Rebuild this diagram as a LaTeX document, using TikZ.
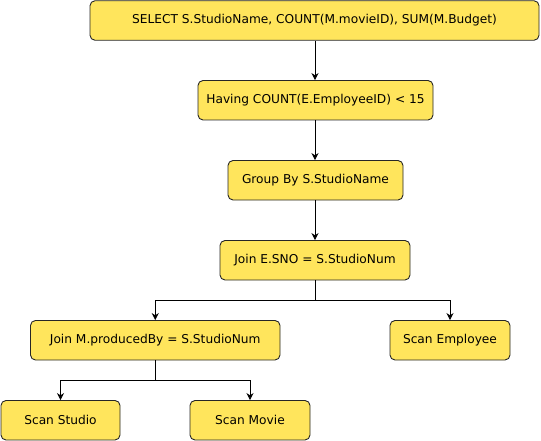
\documentclass[tikz,border=0pt]{standalone}
\usepackage{fontspec}
\setmainfont{DejaVu Sans}
\usetikzlibrary{arrows.meta}
\begin{document}
\begin{tikzpicture}[x=1pt,y=-1pt,
  box/.style={draw=black!85, line width=0.9pt, fill=boxfill, rounded corners=5pt, inner sep=0pt, minimum height=39.5pt, font=\fontsize{12.2}{14}\selectfont},
  arr/.style={-{Stealth[length=7pt,width=7pt]}, line width=0.8pt}]
\definecolor{boxfill}{HTML}{FFE55C}
\useasboundingbox (0,0) rectangle (541,441);
\node[box, minimum width=449pt] (n1) at (314.5,20.5) {SELECT S.StudioName, COUNT(M.movieID), SUM(M.Budget)};
\node[box, minimum width=235pt] (n2) at (315.5,100.25) {Having COUNT(E.EmployeeID) < 15};
\node[box, minimum width=175pt] (n3) at (315.5,180.25) {Group By S.StudioName};
\node[box, minimum width=190pt] (n4) at (315,260.25) {Join E.SNO = S.StudioNum};
\node[box, minimum width=249.5pt] (n5) at (155.25,340.25) {Join M.producedBy = S.StudioNum};
\node[box, minimum width=120pt] (n6) at (450,340.25) {Scan Employee};
\node[box, minimum width=119pt] (n7) at (60.5,420.25) {Scan Studio};
\node[box, minimum width=120pt] (n8) at (250,420.25) {Scan Movie};
\coordinate (j4) at (315,300);
\coordinate (j5) at (155.25,380);
\draw[arr] (n1.south -| j4) -- (n2.north -| j4);
\draw[arr] (n2.south -| j4) -- (n3.north -| j4);
\draw[arr] (n3.south -| j4) -- (n4.north -| j4);
\draw[arr] (n4.south) -- (j4) -| (n5.north);
\draw[arr] (n4.south) -- (j4) -| (n6.north);
\draw[arr] (n5.south) -- (j5) -| (n7.north);
\draw[arr] (n5.south) -- (j5) -| (n8.north);
\end{tikzpicture}
\end{document}
